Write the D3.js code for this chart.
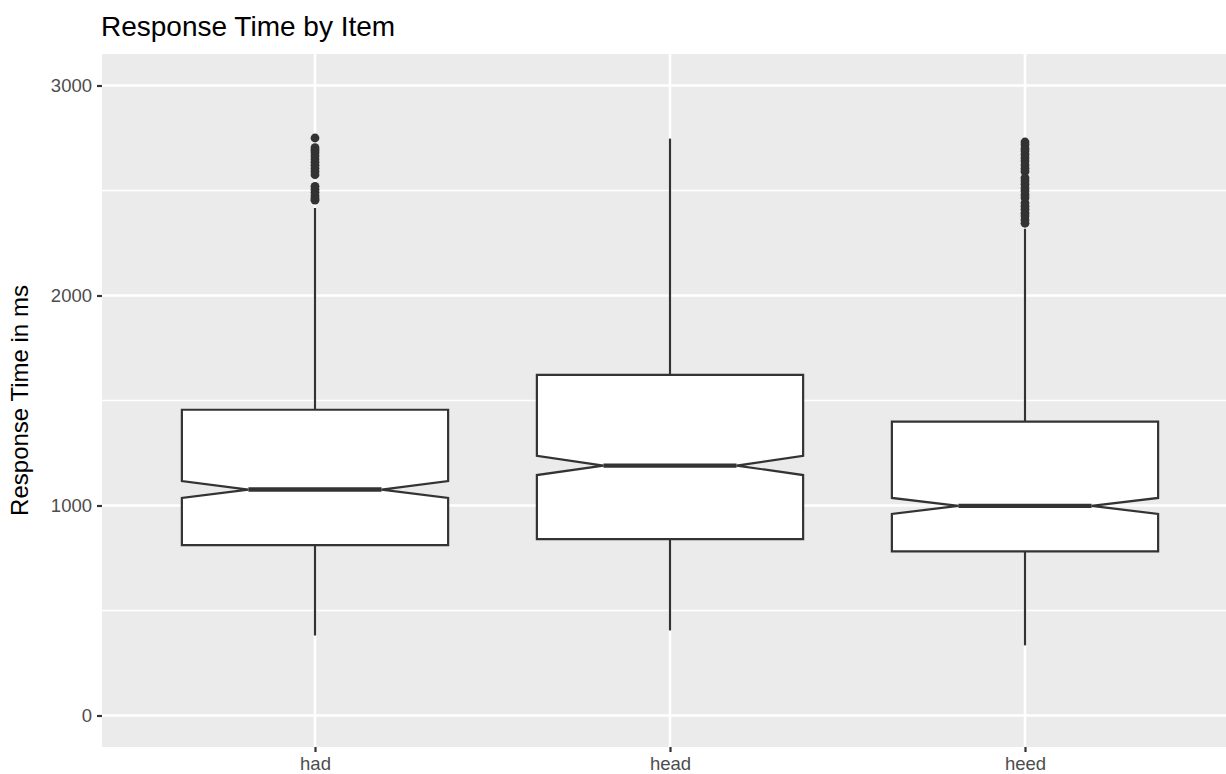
<!DOCTYPE html>
<html>
<head>
<meta charset="utf-8">
<script src="https://cdn.jsdelivr.net/npm/d3@7"></script>
<style>
  body { margin: 0; background: #fff; }
  svg { display: block; font-family: "Liberation Sans", Arial, sans-serif; }
</style>
</head>
<body>
<svg id="chart"></svg>
<script>
// values (ms)
const items = ["had", "head", "heed"];
const whiskerLow = [381, 405, 334];
const q1 = [811, 840, 782];
const median = [1076, 1190, 998];
const q3 = [1456, 1622, 1399];
const whiskerHigh = [2417, 2747, 2318];
const notchLow = [1036, 1145, 960];
const notchHigh = [1116, 1237, 1036];
const outliersHad = [2750, 2704, 2692, 2680, 2665, 2650, 2635, 2620, 2605, 2590, 2575,
  2520, 2505, 2490, 2475, 2462, 2454];
const outliersHead = [];
const outliersHeed = [2731, 2718, 2700, 2688, 2672, 2655, 2640, 2622, 2605, 2590, 2560,
  2545, 2530, 2512, 2498, 2480, 2465, 2440, 2425, 2410, 2392, 2378, 2360, 2344];
const yTicks = [0, 1000, 2000, 3000];
const yMinor = [500, 1500, 2500];

function main() {
  const width = 1226;
  const height = 774;
  const panel = {left: 102, right: 1238, top: 54, bottom: 747};

  const svg = d3.select("#chart")
    .attr("width", width)
    .attr("height", height);

  const x = d3.scalePoint()
    .domain(items)
    .range([panel.left, panel.right])
    .padding(0.6);
  const y = d3.scaleLinear()
    .domain([-150, 3150])
    .range([panel.bottom, panel.top]);

  const boxes = items.map((item, i) => ({
    item,
    lo: whiskerLow[i], q1: q1[i], med: median[i], q3: q3[i], hi: whiskerHigh[i],
    nLo: notchLow[i], nHi: notchHigh[i],
    out: [outliersHad, outliersHead, outliersHeed][i]
  }));

  drawPanel(svg, panel, x, y);
  drawBoxes(svg, boxes, x, y);
  drawAxes(svg, panel, x, y);
  drawLabels(svg, panel);
}

function drawPanel(svg, panel, x, y) {
  svg.append("rect")
    .attr("x", panel.left)
    .attr("y", panel.top)
    .attr("width", panel.right - panel.left)
    .attr("height", panel.bottom - panel.top)
    .attr("fill", "#EBEBEB");

  const grid = svg.append("g").attr("stroke", "#fff");
  grid.selectAll(".minor")
    .data(yMinor)
    .join("line")
    .attr("x1", panel.left).attr("x2", panel.right)
    .attr("y1", d => y(d)).attr("y2", d => y(d))
    .attr("stroke-width", 1.3);
  grid.selectAll(".major")
    .data(yTicks)
    .join("line")
    .attr("x1", panel.left).attr("x2", panel.right)
    .attr("y1", d => y(d)).attr("y2", d => y(d))
    .attr("stroke-width", 2.6);
  grid.selectAll(".vert")
    .data(items)
    .join("line")
    .attr("x1", d => x(d)).attr("x2", d => x(d))
    .attr("y1", panel.top).attr("y2", panel.bottom)
    .attr("stroke-width", 2.6);
}

function boxPath(d, x, y, w) {
  const cx = x(d.item);
  const l = cx - w / 2, r = cx + w / 2;
  const nl = cx - w / 4, nr = cx + w / 4;
  return `M${l},${y(d.q3)}L${r},${y(d.q3)}L${r},${y(d.nHi)}L${nr},${y(d.med)}` +
    `L${r},${y(d.nLo)}L${r},${y(d.q1)}L${l},${y(d.q1)}L${l},${y(d.nLo)}` +
    `L${nl},${y(d.med)}L${l},${y(d.nHi)}Z`;
}

function drawBoxes(svg, boxes, x, y) {
  const w = x.step() * 0.75;
  const g = svg.append("g")
    .attr("stroke", "#333333")
    .selectAll("g")
    .data(boxes)
    .join("g");

  // whiskers
  g.append("line")
    .attr("x1", d => x(d.item)).attr("x2", d => x(d.item))
    .attr("y1", d => y(d.q3)).attr("y2", d => y(d.hi))
    .attr("stroke-width", 2.2);
  g.append("line")
    .attr("x1", d => x(d.item)).attr("x2", d => x(d.item))
    .attr("y1", d => y(d.q1)).attr("y2", d => y(d.lo))
    .attr("stroke-width", 2.2);

  g.append("path")
    .attr("d", d => boxPath(d, x, y, w))
    .attr("fill", "#fff")
    .attr("stroke-width", 2.2)
    .attr("stroke-linejoin", "miter");

  // median
  g.append("line")
    .attr("x1", d => x(d.item) - w / 4).attr("x2", d => x(d.item) + w / 4)
    .attr("y1", d => y(d.med)).attr("y2", d => y(d.med))
    .attr("stroke-width", 4.4);

  // outliers
  g.selectAll("circle")
    .data(d => d.out.map(v => ({item: d.item, v})))
    .join("circle")
    .attr("cx", d => x(d.item))
    .attr("cy", d => y(d.v))
    .attr("r", 4.4)
    .attr("fill", "#333333")
    .attr("stroke", "none");
}

function drawAxes(svg, panel, x, y) {
  const yAxis = svg.append("g")
    .attr("transform", `translate(${panel.left},0)`)
    .call(d3.axisLeft(y).tickValues(yTicks).tickFormat(d3.format("d")).tickSize(5).tickPadding(5));
  const xAxis = svg.append("g")
    .attr("transform", `translate(0,${panel.bottom})`)
    .call(d3.axisBottom(x).tickSize(5).tickPadding(5));

  [yAxis, xAxis].forEach(a => {
    a.select(".domain").remove();
    a.selectAll(".tick line").attr("stroke", "#333333").attr("stroke-width", 2.2);
    a.selectAll(".tick text")
      .attr("fill", "#4D4D4D")
      .style("font-family", "Liberation Sans, Arial, sans-serif")
      .style("font-size", "18.5px");
  });
}

function drawLabels(svg, panel) {
  svg.append("text")
    .attr("x", 101)
    .attr("y", 36)
    .attr("fill", "#000")
    .style("font-size", "28px")
    .text("Response Time by Item");

  svg.append("text")
    .attr("transform", `translate(28,${(panel.top + panel.bottom) / 2}) rotate(-90)`)
    .attr("text-anchor", "middle")
    .attr("fill", "#000")
    .style("font-size", "24px")
    .text("Response Time in ms");
}

main();
</script>
</body>
</html>
